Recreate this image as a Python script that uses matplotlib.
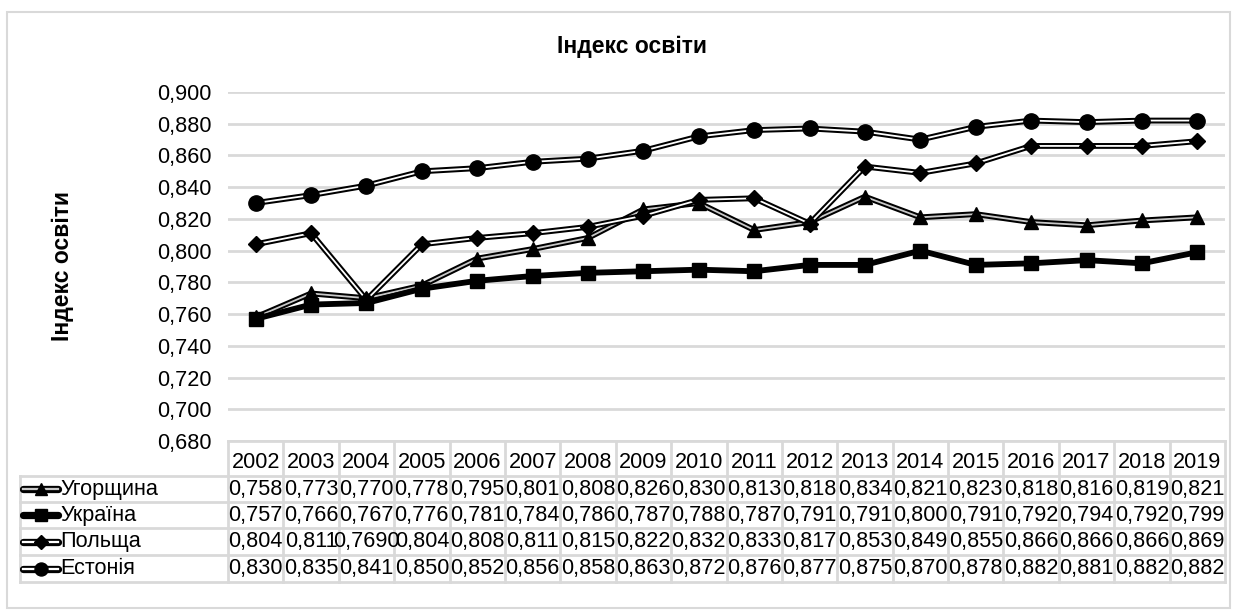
import matplotlib.pyplot as plt
from matplotlib.patches import Rectangle

plt.rcParams['font.family'] = ['Liberation Sans', 'DejaVu Sans']

years = list(range(2002, 2020))
names = ["Угорщина", "Україна", "Польща", "Естонія"]
hungary = [0.758, 0.773, 0.770, 0.778, 0.795, 0.801, 0.808, 0.826, 0.830,
           0.813, 0.818, 0.834, 0.821, 0.823, 0.818, 0.816, 0.819, 0.821]
ukraine = [0.757, 0.766, 0.767, 0.776, 0.781, 0.784, 0.786, 0.787, 0.788,
           0.787, 0.791, 0.791, 0.800, 0.791, 0.792, 0.794, 0.792, 0.799]
poland = [0.804, 0.811, 0.7690, 0.804, 0.808, 0.811, 0.815, 0.822, 0.832,
          0.833, 0.817, 0.853, 0.849, 0.855, 0.866, 0.866, 0.866, 0.869]
estonia = [0.830, 0.835, 0.841, 0.850, 0.852, 0.856, 0.858, 0.863, 0.872,
           0.876, 0.877, 0.875, 0.870, 0.878, 0.882, 0.881, 0.882, 0.882]
series = [hungary, ukraine, poland, estonia]


def fmt(v):
    return f"{v:.3f}".replace(".", ",")


# text shown in the data table (Poland 2004 is printed with four decimals)
table_text = [
    [fmt(v) for v in hungary],
    [fmt(v) for v in ukraine],
    [("0,7690" if i == 2 else fmt(v)) for i, v in enumerate(poland)],
    [fmt(v) for v in estonia],
]

# style per series: marker, inner colour of the double line (None = solid)
markers = ['^', 's', 'D', 'o']
msizes = [10, 10, 8.5, 11]
inner = ['#c8c8c8', None, 'white', 'white']

W, H = 1237, 615
fig = plt.figure(figsize=(W / 100, H / 100), dpi=100)
grid_c = '#d9d9d9'
fs = 15.6
fs_title = 16.5

# plot area in pixels
x0, x1, ytop, ybot = 228, 1225, 92, 441
ax = fig.add_axes([x0 / W, 1 - ybot / H, (x1 - x0) / W, (ybot - ytop) / H])
x = list(range(len(years)))


def draw_series(a, xs, ys, k, lw_scale=1.0):
    a.plot(xs, ys, color='black', lw=4.2 * lw_scale, solid_capstyle='round',
           solid_joinstyle='round', zorder=3 + k)
    if inner[k] is not None:
        a.plot(xs, ys, color=inner[k], lw=1.3 * lw_scale, solid_joinstyle='round',
               zorder=3 + k)


for k, ys in enumerate(series):
    draw_series(ax, x, ys, k)
    ax.plot(x, ys, ls='none', marker=markers[k], ms=msizes[k], color='black',
            zorder=3 + k)

ax.set_xlim(-0.5, len(years) - 0.5)
ax.set_ylim(0.68, 0.90)
yt = [0.68 + 0.02 * i for i in range(12)]
ax.set_yticks(yt)
ax.set_yticklabels([fmt(v) for v in yt], fontsize=fs)
ax.set_xticks([])
ax.tick_params(axis='y', length=0, pad=12)
ax.grid(axis='y', color=grid_c, lw=2)
ax.set_axisbelow(True)
for s in ax.spines.values():
    s.set_visible(False)

fig.text(632 / W, 1 - 47 / H, "Індекс освіти", ha='center', va='center',
         fontsize=fs_title, fontweight='bold')
fig.text(62 / W, 1 - 266 / H, "Індекс освіти", ha='center', va='center',
         rotation=90, fontsize=fs_title, fontweight='bold')

# data table under the plot, same column width as the categories
tl, tbot = 20, 582
col_w = (x1 - x0) / len(years)
tab = fig.add_axes([tl / W, 1 - tbot / H, (x1 - tl) / W, (tbot - ybot) / H])
tab.set_xlim(-0.5 - (x0 - tl) / col_w, len(years) - 0.5)
tab.set_ylim(tbot - ybot, 0)
tab.axis('off')
row_edges = [0, 35, 61, 87, 114, 141]
lx = -0.5 - (x0 - tl) / col_w

# header row with years
for i, yr in enumerate(years):
    tab.text(i, 21, str(yr), ha='center', va='center', fontsize=fs)
# grid lines of the table
for e in row_edges:
    left = lx if e != row_edges[0] else -0.5
    tab.plot([left, len(years) - 0.5], [e, e], color=grid_c, lw=2, clip_on=False)
for i in range(len(years) + 1):
    tab.plot([i - 0.5, i - 0.5], [0, row_edges[-1]], color=grid_c, lw=2, clip_on=False)
tab.plot([lx, lx], [row_edges[1], row_edges[-1]], color=grid_c, lw=2, clip_on=False)

px = 1 / col_w
for r, (name, vals) in enumerate(zip(names, table_text)):
    yc = (row_edges[r + 1] + row_edges[r + 2]) / 2
    for i, t in enumerate(vals):
        tab.text(i, yc, t, ha='center', va='center', fontsize=fs)
    # legend key
    kx = [lx + 3 * px, lx + 38 * px]
    draw_series(tab, kx, [yc, yc], r, lw_scale=1.25)
    tab.plot([(kx[0] + kx[1]) / 2], [yc], ls='none', marker=markers[r],
             ms=msizes[r] * 0.85, color='black', zorder=10)
    tab.text(lx + 40 * px, yc, name, ha='left', va='center', fontsize=fs)

# outer frame of the chart
fig.patches.append(Rectangle((7 / W, 1 - 608 / H), 1223 / W, 596 / H,
                             transform=fig.transFigure, fill=False,
                             edgecolor=grid_c, lw=1.5))

fig.savefig("out.png", dpi=100)
